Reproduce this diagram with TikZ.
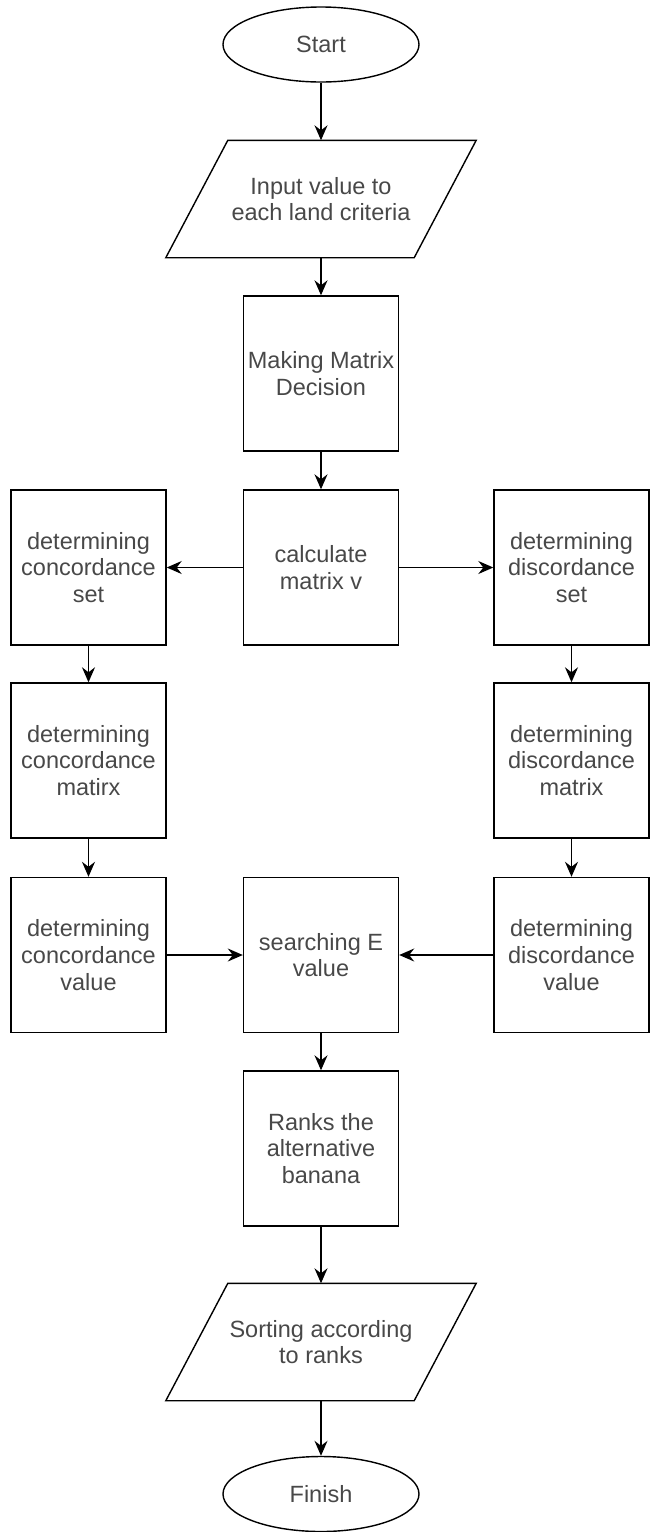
\documentclass[tikz,border=0pt]{standalone}
\usepackage{fontspec}
\setmainfont{Liberation Sans}
\usetikzlibrary{shapes.geometric,arrows.meta}
\definecolor{txtgray}{RGB}{72,72,72}
\tikzset{
  base/.style={draw=black, line width=1.4pt, text=txtgray, align=center,
    font=\fontsize{23.5}{26.8}\selectfont, inner sep=0pt},
  procbox/.style={base, rectangle, minimum width=155pt, minimum height=155pt},
  term/.style={base, ellipse, minimum width=196pt, minimum height=75pt},
  iobox/.style={base, draw=none, rectangle, minimum width=247pt, minimum height=116pt},
  para/.style={draw=black, line width=1.4pt, line join=miter},
  arr/.style={draw=black, line width=1.4pt, -{Stealth[length=15pt,width=13pt,inset=5pt]}}
}
\begin{document}
\begin{tikzpicture}[x=1pt,y=-1pt]
\useasboundingbox (0,0) rectangle (650,1532);
\node[term] (start) at (321,44.5) {Start};
\node[iobox] (input) at (321,199) {Input value to\\each land criteria};
\draw[para] ([xshift=31pt]input.north west) -- ([xshift=31pt]input.north east)
  -- ([xshift=-31pt]input.south east) -- ([xshift=-31pt]input.south west) -- cycle;
\node[procbox] (making) at (321,373.5) {Making Matrix\\Decision};
\node[procbox] (calc) at (321,567.5) {calculate\\matrix v};
\node[procbox] (cset) at (88.5,567.5) {determining\\concordance\\set};
\node[procbox] (dset) at (571.5,567.5) {determining\\discordance\\set};
\node[procbox] (cmat) at (88.5,760.5) {determining\\concordance\\matirx};
\node[procbox] (dmat) at (571.5,760.5) {determining\\discordance\\matrix};
\node[procbox] (cval) at (88.5,955) {determining\\concordance\\value};
\node[procbox] (search) at (321,955) {searching E\\value};
\node[procbox] (dval) at (571.5,955) {determining\\discordance\\value};
\node[procbox] (ranks) at (321,1148.5) {Ranks the\\alternative\\banana};
\node[iobox] (sort) at (321,1342) {Sorting according\\to ranks};
\draw[para] ([xshift=31pt]sort.north west) -- ([xshift=31pt]sort.north east)
  -- ([xshift=-31pt]sort.south east) -- ([xshift=-31pt]sort.south west) -- cycle;
\node[term] (finish) at (321,1494) {Finish};

\draw[arr] (start) -- (input);
\draw[arr] (input) -- (making);
\draw[arr] (making) -- (calc);
\draw[arr] (calc) -- (cset);
\draw[arr] (calc) -- (dset);
\draw[arr] (cset) -- (cmat);
\draw[arr] (dset) -- (dmat);
\draw[arr] (cmat) -- (cval);
\draw[arr] (dmat) -- (dval);
\draw[arr] (cval) -- (search);
\draw[arr] (dval) -- (search);
\draw[arr] (search) -- (ranks);
\draw[arr] (ranks) -- (sort);
\draw[arr] (sort) -- (finish);
\end{tikzpicture}
\end{document}
